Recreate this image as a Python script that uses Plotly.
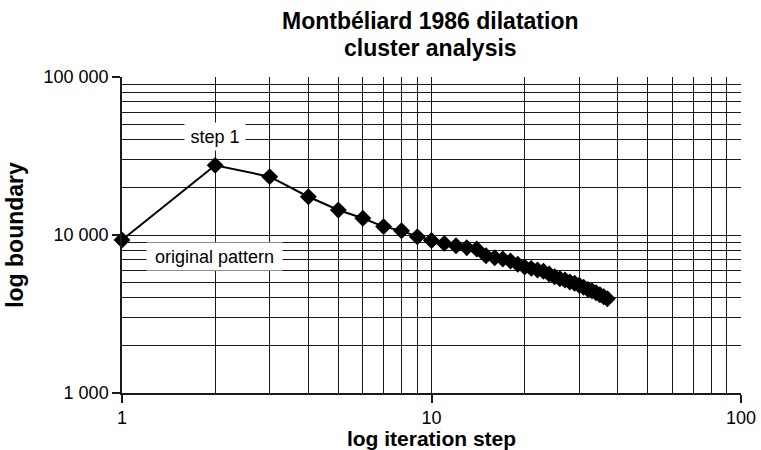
import plotly.graph_objects as go

# Iteration steps of the dilatation and the corresponding cluster boundary length
steps = list(range(1, 38))
boundary = [
    9300, 27600, 23400, 17460, 14400, 12760, 11300, 10650, 9750, 9230,
    8850, 8550, 8310, 8150, 7390, 7180, 7050, 6840, 6530, 6270,
    6150, 6000, 5890, 5660, 5440, 5290, 5190, 5040, 4950, 4810,
    4670, 4530, 4440, 4310, 4190, 4070, 3950,
]

x_major = [1, 10, 100]
x_major_text = ["1", "10", "100"]
x_minor = [2, 3, 4, 5, 6, 7, 8, 9, 20, 30, 40, 50, 60, 70, 80, 90]
y_major = [1000, 10000, 100000]
y_major_text = ["1 000", "10 000", "100 000"]
y_minor = [2000, 3000, 4000, 5000, 6000, 7000, 8000, 9000,
           20000, 30000, 40000, 50000, 60000, 70000, 80000, 90000]

title_lines = ["Montbéliard 1986 dilatation", "cluster analysis"]

FONT = "Liberation Sans, Arial, Helvetica, sans-serif"
GRID = "#1a1a1a"

fig = go.Figure()
fig.add_trace(go.Scatter(
    x=steps, y=boundary, mode="lines+markers",
    line=dict(color="black", width=2),
    marker=dict(symbol="diamond", size=13, color="black"),
    showlegend=False, cliponaxis=False,
))

axis_common = dict(
    type="log", showline=True, linecolor=GRID, linewidth=1.5,
    showgrid=True, gridcolor=GRID, gridwidth=1.1,
    ticks="outside", ticklen=8, tickcolor=GRID, tickwidth=1.5,
    tickfont=dict(family=FONT, size=18, color="black"),
    zeroline=False, mirror=False, automargin=False,
)

fig.update_xaxes(
    **axis_common, range=[0, 2], tickmode="array",
    tickvals=x_major, ticktext=x_major_text,
    minor=dict(tickmode="array", tickvals=x_minor, showgrid=True,
               gridcolor=GRID, gridwidth=1.1, ticks=""),
    title=dict(text="<b>log iteration step</b>",
               font=dict(family=FONT, size=21, color="black"), standoff=8),
)
fig.update_yaxes(
    **axis_common, range=[3, 5], tickmode="array",
    tickvals=y_major, ticktext=y_major_text,
    minor=dict(tickmode="array", tickvals=y_minor, showgrid=True,
               gridcolor=GRID, gridwidth=1.1, ticks=""),
    title=dict(text="<b>log boundary</b>",
               font=dict(family=FONT, size=23, color="black"), standoff=14),
)

# Labels with white boxes over the grid
fig.add_annotation(
    xref="paper", yref="paper", x=0.150, y=0.811,
    xanchor="center", yanchor="middle",
    text="step 1", showarrow=False, bgcolor="white",
    width=60, height=27, borderpad=0,
    font=dict(family=FONT, size=18, color="black"),
)
fig.add_annotation(
    xref="paper", yref="paper", x=0.149, y=0.433,
    xanchor="center", yanchor="middle",
    text="original pattern", showarrow=False, bgcolor="white",
    width=135, height=27, borderpad=0,
    font=dict(family=FONT, size=18, color="black"),
)

# Two-line chart heading above the plot area
for text, ypos in zip(title_lines, [1.177, 1.092]):
    fig.add_annotation(
        xref="paper", yref="paper", x=0.499, y=ypos,
        xanchor="center", yanchor="middle",
        text=f"<b>{text}</b>", showarrow=False,
        font=dict(family=FONT, size=23, color="black"),
    )

fig.update_layout(
    width=761, height=450,
    margin=dict(l=122, r=20, t=77, b=57),
    paper_bgcolor="white", plot_bgcolor="white",
    font=dict(family=FONT, color="black"),
)

fig.write_html("out.html")
